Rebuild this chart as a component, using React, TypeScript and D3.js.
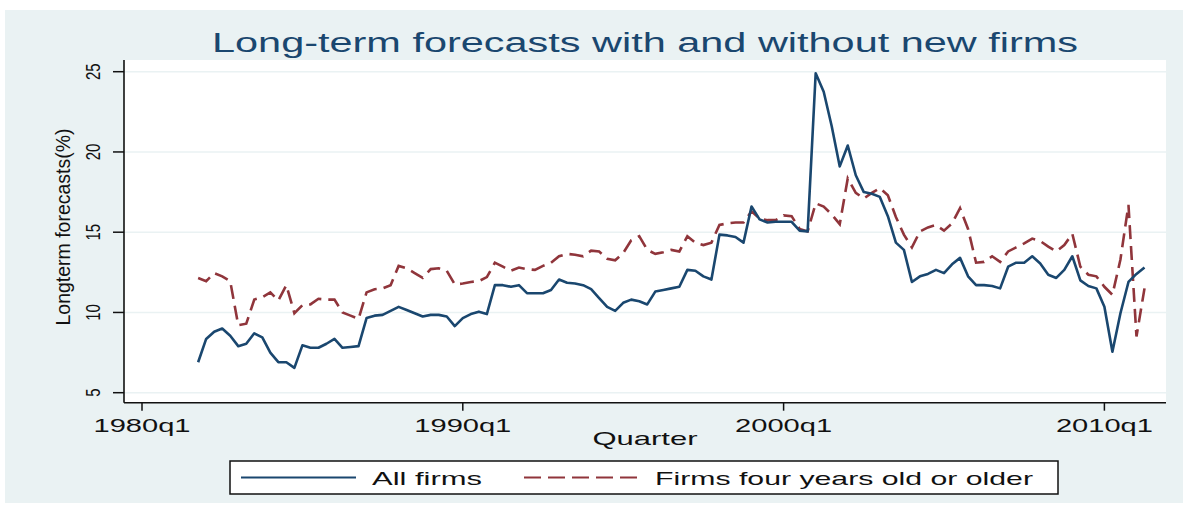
import React from "react";
import * as d3 from "d3";

const startQuarter = "1981q4";

const allFirms = [
  6.9, 8.35, 8.8, 9.0, 8.55, 7.9, 8.05, 8.7, 8.45, 7.5,
  6.9, 6.9, 6.55, 7.95, 7.8, 7.8, 8.05, 8.35, 7.8, 7.85,
  7.9, 9.65, 9.8, 9.85, 10.1, 10.35, 10.15, 9.95, 9.75, 9.85,
  9.85, 9.75, 9.15, 9.65, 9.9, 10.05, 9.9, 11.7, 11.7, 11.6,
  11.7, 11.2, 11.2, 11.2, 11.4, 12.05, 11.85, 11.8, 11.7, 11.45,
  10.9, 10.35, 10.1, 10.6, 10.8, 10.7, 10.5, 11.3, 11.4, 11.5,
  11.6, 12.65, 12.6, 12.25, 12.05, 14.85, 14.8, 14.7, 14.35, 16.6,
  15.8, 15.6, 15.65, 15.65, 15.65, 15.1, 15.05, 24.9, 23.75, 21.6,
  19.1, 20.4, 18.55, 17.5, 17.4, 17.2, 16.0, 14.35, 13.9, 11.9,
  12.25, 12.4, 12.65, 12.45, 13.0, 13.4, 12.25, 11.7, 11.7, 11.65,
  11.5, 12.85, 13.1, 13.1, 13.5, 13.05, 12.35, 12.15, 12.65, 13.5,
  12.0, 11.65, 11.5, 10.35, 7.55, 9.95, 11.9, 12.4, 12.8,
];

const olderFirms = [
  12.15, 11.95, 12.45, 12.25, 11.95, 9.2, 9.3, 10.8, 10.95, 11.25,
  10.75, 11.7, 9.95, 10.45, 10.5, 10.85, 10.8, 10.8, 10.0, 9.8,
  9.6, 11.25, 11.45, 11.5, 11.7, 12.9, 12.75, 12.45, 12.15, 12.7,
  12.75, 12.6, 11.75, 11.8, 11.9, 11.95, 12.2, 13.1, 12.85, 12.6,
  12.8, 12.7, 12.65, 12.9, 13.1, 13.5, 13.65, 13.6, 13.5, 13.85,
  13.8, 13.35, 13.25, 13.7, 14.5, 14.75, 13.9, 13.65, 13.75, 13.9,
  13.8, 14.75, 14.35, 14.2, 14.35, 15.45, 15.55, 15.6, 15.6, 16.3,
  15.85, 15.75, 15.75, 16.05, 16.0, 15.2, 15.05, 16.8, 16.6, 16.1,
  15.5, 18.35, 17.45, 17.1, 17.45, 17.75, 17.3, 15.95, 14.85, 14.05,
  15.05, 15.3, 15.45, 15.1, 15.55, 16.5, 15.2, 13.1, 13.15, 13.5,
  13.15, 13.8, 14.05, 14.3, 14.6, 14.45, 14.1, 13.8, 14.2, 14.9,
  12.85, 12.35, 12.25, 11.6, 11.1, 13.3, 16.7, 8.5, 11.5,
];

const xTickLabels = ["1980q1", "1990q1", "2000q1", "2010q1"];
const yTickValues = [5, 10, 15, 20, 25];
const seriesNames = ["All firms", "Firms four years old or older"];
const titleText = "Long-term forecasts with and without new firms";
const yTitle = "Longterm forecasts(%)";
const xTitle = "Quarter";

const NAVY = "#1A476F";
const MAROON = "#90353B";
const BG = "#EAF2F3";
const FONT = "'Liberation Sans', Arial, sans-serif";

function qIndex(label: string): number {
  const [yr, q] = label.split("q").map(Number);
  return (yr - 1980) * 4 + (q - 1);
}

export default function App() {
  const W = 1189;
  const H = 508;
  const plot = { left: 124, right: 1166, top: 60, bottom: 402.7 };
  const x = d3.scaleLinear().domain([0, 120]).range([142, 1104.4]);
  const y = d3.scaleLinear().domain([5, 25]).range([392.7, 71.7]);
  const s0 = qIndex(startQuarter);
  const line = d3
    .line<number>()
    .x((_, i) => x(s0 + i))
    .y((d) => y(d));

  return (
    <svg
      width={W}
      height={H}
      style={{ position: "absolute", left: 0, top: 0, display: "block" }}
      fontFamily={FONT}
    >
      <rect x={0} y={0} width={W} height={H} fill="#ffffff" />
      <rect x={5} y={10} width={1178} height={493} fill={BG} />
      <rect
        x={plot.left}
        y={plot.top}
        width={plot.right - plot.left}
        height={plot.bottom - plot.top}
        fill="#ffffff"
      />
      {/* gridlines */}
      {yTickValues.map((v) => (
        <line
          key={"g" + v}
          x1={plot.left}
          x2={plot.right}
          y1={y(v)}
          y2={y(v)}
          stroke={BG}
          strokeWidth={1.6}
        />
      ))}
      {/* title */}
      <text
        x={645}
        y={52}
        textAnchor="middle"
        fontSize={27}
        fill={NAVY}
        textLength={866}
        lengthAdjust="spacingAndGlyphs"
      >
        {titleText}
      </text>
      {/* series */}
      <path d={line(olderFirms) || ""} fill="none" stroke={MAROON} strokeWidth={2.6} strokeDasharray="14 7" />
      <path d={line(allFirms) || ""} fill="none" stroke={NAVY} strokeWidth={2.6} strokeLinejoin="round" />
      {/* axes */}
      <line x1={plot.left} x2={plot.left} y1={plot.top} y2={plot.bottom} stroke="#111" strokeWidth={1.6} />
      <line x1={plot.left} x2={plot.right} y1={plot.bottom} y2={plot.bottom} stroke="#111" strokeWidth={1.6} />
      {yTickValues.map((v) => (
        <g key={"yt" + v}>
          <line x1={113} x2={plot.left} y1={y(v)} y2={y(v)} stroke="#111" strokeWidth={1.5} />
          <text
            transform={`translate(100,${y(v)}) scale(1.3,1) rotate(-90)`}
            textAnchor="middle"
            fontSize={15}
            fill="#111"
          >
            {v}
          </text>
        </g>
      ))}
      <text
        transform={`translate(70,227) scale(1.3,1) rotate(-90)`}
        textAnchor="middle"
        fontSize={15}
        fill="#111"
        textLength={197}
        lengthAdjust="spacingAndGlyphs"
      >
        {yTitle}
      </text>
      {xTickLabels.map((lab) => {
        const xi = x(qIndex(lab));
        return (
          <g key={lab}>
            <line x1={xi} x2={xi} y1={plot.bottom} y2={plot.bottom + 8} stroke="#111" strokeWidth={1.5} />
            <text
              x={xi}
              y={432}
              textAnchor="middle"
              fontSize={19}
              fill="#111"
              textLength={97}
              lengthAdjust="spacingAndGlyphs"
            >
              {lab}
            </text>
          </g>
        );
      })}
      <text
        x={645}
        y={445}
        textAnchor="middle"
        fontSize={19}
        fill="#111"
        textLength={105}
        lengthAdjust="spacingAndGlyphs"
      >
        {xTitle}
      </text>
      {/* legend */}
      <rect x={230} y={461} width={828} height={33} fill="#ffffff" stroke="#111" strokeWidth={1.5} />
      <line x1={241} x2={356} y1={477.5} y2={477.5} stroke={NAVY} strokeWidth={2} />
      <text x={372} y={485} fontSize={19} fill="#111" textLength={110} lengthAdjust="spacingAndGlyphs">
        {seriesNames[0]}
      </text>
      <line x1={524} x2={640} y1={477.5} y2={477.5} stroke={MAROON} strokeWidth={2} strokeDasharray="17 7" />
      <text x={655} y={485} fontSize={19} fill="#111" textLength={378} lengthAdjust="spacingAndGlyphs">
        {seriesNames[1]}
      </text>
    </svg>
  );
}
